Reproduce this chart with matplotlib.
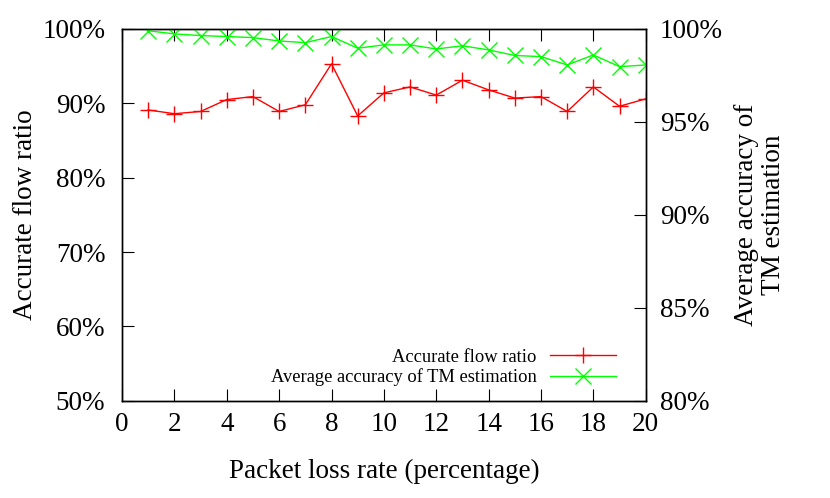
import numpy as np
import matplotlib
matplotlib.use('Agg')
import matplotlib.pyplot as plt

plt.rcParams['font.family'] = ['Liberation Serif', 'DejaVu Serif']

#-------------------------------------------------------------------------------
#DATA

#packet loss rate (percentage)
loss = [1, 2, 3, 4, 5, 6, 7, 8, 9, 10, 11, 12, 13, 14, 15, 16, 17, 18, 19, 20]

#accurate flow ratio (%), left axis
flow_ratio = [89.1, 88.6, 88.9, 90.5, 90.9, 88.9, 89.8, 95.3, 88.3, 91.4,
              92.2, 91.1, 93.1, 91.8, 90.7, 90.9, 88.9, 92.2, 89.6, 90.6]

#average accuracy of TM estimation (%), right axis
tm_acc = [99.90, 99.73, 99.64, 99.59, 99.53, 99.35, 99.26, 99.59, 98.96, 99.14,
          99.14, 98.92, 99.09, 98.87, 98.57, 98.51, 98.06, 98.60, 97.97, 98.06]

xticks = list(range(0, 21, 2))
yticks = [50, 60, 70, 80, 90, 100]
y2ticks = [80, 85, 90, 95, 100]

#-------------------------------------------------------------------------------
#PLOT

fs = 19.5
fig = plt.figure(figsize=(8.30, 4.98), dpi=100)
ax = fig.add_axes([0.147, 0.195, 0.631, 0.747])
ax2 = ax.twinx()

l1, = ax.plot(loss, flow_ratio, color='#ff0000', lw=1, marker='+', ms=12, mew=1,
              label='Accurate flow ratio')
l2, = ax2.plot(loss, tm_acc, color='#00ff00', lw=1, marker='x', ms=11, mew=1,
               label='Average accuracy of TM estimation')

ax.set_xlim(0, 20)
ax.set_ylim(50, 100)
ax2.set_ylim(80, 100)
ax.set_xticks(xticks)
ax.set_yticks(yticks)
ax2.set_yticks(y2ticks)
ax.set_xticklabels([str(t) for t in xticks], fontsize=fs)
ax.set_yticklabels(['%d%%' % t for t in yticks], fontsize=fs)
ax2.set_yticklabels(['%d%%' % t for t in y2ticks], fontsize=fs)

ax.tick_params(axis='x', direction='in', top=True, length=8.5, pad=8)
ax.tick_params(axis='y', direction='in', right=False, length=8.5, pad=12)
ax2.tick_params(axis='y', direction='in', length=8.5, pad=10)

for a in (ax, ax2):
    for s in a.spines.values():
        s.set_linewidth(1)

ax.set_xlabel('Packet loss rate (percentage)', fontsize=fs, labelpad=16)
ax.set_ylabel('Accurate flow ratio', fontsize=fs, labelpad=3)
ax2.set_ylabel('Average accuracy of\nTM estimation', fontsize=fs, rotation=90,
               labelpad=8, linespacing=1.1)

ax2.legend(handles=[l1, l2], loc='lower right', frameon=False, fontsize=13.3,
           markerfirst=False, handlelength=3.6, handletextpad=0.7,
           labelspacing=0.15, borderaxespad=0.3, bbox_to_anchor=(0.968, 0.004))

fig.savefig('out.png', dpi=100)
